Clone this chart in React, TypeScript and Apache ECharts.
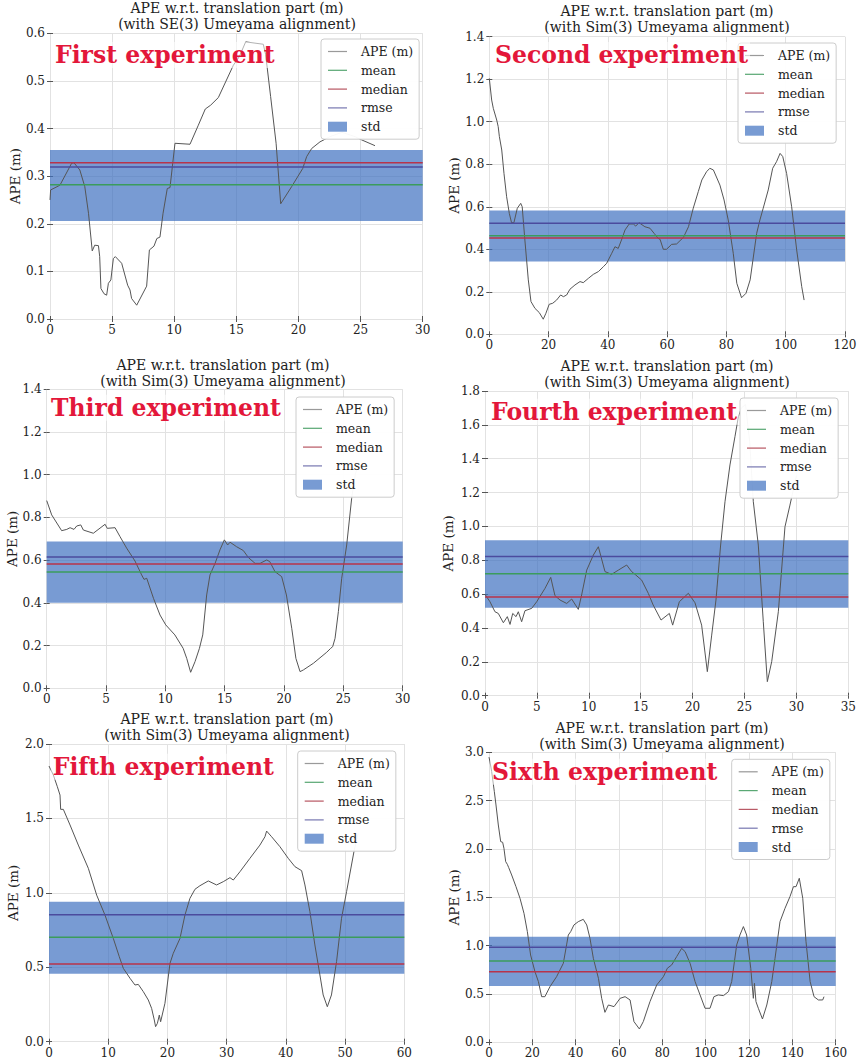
import React, { useEffect, useRef } from 'react';
import * as echarts from 'echarts';

const experimentLabels = ['First experiment', 'Second experiment', 'Third experiment', 'Fourth experiment', 'Fifth experiment', 'Sixth experiment'];
const alignmentNames = ['SE(3)', 'Sim(3)', 'Sim(3)', 'Sim(3)', 'Sim(3)', 'Sim(3)'];
const xMaxes = [30, 120, 30, 35, 60, 160];
const xSteps = [5, 20, 5, 5, 10, 20];
const yMaxes = [0.6, 1.4, 1.4, 1.8, 2.0, 3.0];
const ySteps = [0.1, 0.2, 0.2, 0.2, 0.5, 0.5];

const means = [0.282, 0.464, 0.545, 0.721, 0.701, 0.841];
const medians = [0.328, 0.453, 0.582, 0.583, 0.522, 0.731];
const rmses = [0.319, 0.522, 0.615, 0.823, 0.853, 0.983];
const stdLow = [0.206, 0.343, 0.401, 0.52, 0.457, 0.583];
const stdHigh = [0.355, 0.582, 0.687, 0.918, 0.941, 1.093];

const ape1 = [[0, 0.25], [0.05, 0.271], [0.8, 0.281], [1.74, 0.327], [1.93, 0.328], [2.4, 0.313], [2.8, 0.278], [3.1, 0.222], [3.4, 0.143], [3.6, 0.155], [3.9, 0.154], [4.0, 0.131], [4.1, 0.064], [4.35, 0.053], [4.56, 0.05], [4.7, 0.075], [4.9, 0.082], [5.1, 0.127], [5.26, 0.131], [5.77, 0.117], [6.25, 0.071], [6.44, 0.061], [6.57, 0.043], [6.98, 0.029], [7.78, 0.069], [8.0, 0.145], [8.37, 0.153], [8.6, 0.169], [8.85, 0.172], [9.1, 0.222], [9.44, 0.274], [9.66, 0.276], [10.06, 0.369], [11.27, 0.367], [11.94, 0.407], [12.5, 0.441], [12.93, 0.449], [13.55, 0.465], [14.76, 0.533], [15.24, 0.551], [15.75, 0.582], [17.17, 0.577], [17.36, 0.555], [17.76, 0.467], [18.2, 0.369], [18.57, 0.242], [19.45, 0.278], [20.34, 0.316], [20.66, 0.341], [21.06, 0.358], [21.73, 0.372], [22.54, 0.383], [23.5, 0.392], [24.55, 0.383], [25.1, 0.376], [26.16, 0.364]];

const ape2 = [[0, 1.204], [0.8, 1.102], [1.35, 1.063], [2.5, 1.008], [3.0, 0.977], [3.4, 0.93], [4.2, 0.867], [4.95, 0.757], [5.85, 0.647], [6.75, 0.569], [7.5, 0.525], [8.3, 0.525], [9.45, 0.593], [10.6, 0.616], [11.1, 0.6], [12.0, 0.444], [13.16, 0.256], [14.06, 0.154], [15.4, 0.122], [16.87, 0.102], [18.2, 0.071], [19.1, 0.099], [20.2, 0.141], [21.4, 0.146], [22.7, 0.161], [24.07, 0.185], [25.0, 0.177], [26.1, 0.185], [27.2, 0.212], [28.9, 0.232], [30.6, 0.248], [31.7, 0.243], [33.4, 0.263], [35.1, 0.282], [36.8, 0.295], [38.5, 0.318], [39.6, 0.334], [41.3, 0.381], [42.4, 0.412], [43.5, 0.404], [44.6, 0.444], [45.8, 0.491], [47.2, 0.519], [48.6, 0.519], [49.4, 0.509], [50.5, 0.525], [52.5, 0.506], [54.2, 0.499], [55.6, 0.475], [57.0, 0.451], [57.6, 0.447], [58.7, 0.4], [59.8, 0.4], [61.5, 0.423], [63.2, 0.425], [65.5, 0.456], [67.2, 0.506], [68.8, 0.593], [70.5, 0.671], [71.7, 0.726], [73.3, 0.765], [74.4, 0.781], [75.6, 0.773], [77.8, 0.702], [79.2, 0.632], [80.6, 0.538], [82.3, 0.381], [83.5, 0.24], [85.1, 0.172], [86.6, 0.193], [88.0, 0.256], [90.2, 0.475], [91.3, 0.538], [92.4, 0.593], [94.1, 0.679], [95.6, 0.781], [96.9, 0.812], [98.1, 0.851], [99.0, 0.836], [100.3, 0.757], [102.0, 0.6], [103.7, 0.397], [105.4, 0.224], [106.2, 0.161]];

const ape3 = [[0, 0.879], [0.42, 0.812], [1.26, 0.738], [1.69, 0.744], [1.97, 0.752], [2.3, 0.744], [2.53, 0.76], [2.87, 0.765], [3.09, 0.741], [3.93, 0.726], [4.92, 0.768], [5.1, 0.749], [5.76, 0.752], [6.18, 0.71], [6.74, 0.656], [7.44, 0.596], [8.0, 0.531], [8.2, 0.51], [8.43, 0.515], [9.0, 0.421], [9.55, 0.343], [10.03, 0.297], [10.8, 0.25], [11.5, 0.187], [11.8, 0.14], [12.13, 0.075], [12.5, 0.125], [12.87, 0.187], [13.15, 0.25], [13.48, 0.437], [13.76, 0.531], [14.19, 0.585], [14.6, 0.648], [14.97, 0.695], [15.25, 0.671], [15.45, 0.684], [16.0, 0.663], [16.57, 0.645], [17.0, 0.612], [17.56, 0.585], [17.98, 0.585], [18.54, 0.601], [18.8, 0.593], [19.24, 0.546], [19.8, 0.523], [20.2, 0.437], [20.65, 0.281], [21.0, 0.14], [21.35, 0.078], [21.63, 0.086], [22.47, 0.117], [23.6, 0.169], [23.93, 0.187], [24.1, 0.195], [24.3, 0.234], [24.58, 0.359], [24.86, 0.515], [25.28, 0.671], [25.7, 0.89], [26.0, 1.0], [26.3, 1.06]];

const ape4 = [[0, 0.599], [0.48, 0.555], [0.96, 0.496], [1.28, 0.486], [1.77, 0.431], [2.15, 0.467], [2.41, 0.421], [2.67, 0.486], [2.99, 0.467], [3.21, 0.496], [3.53, 0.437], [3.85, 0.502], [4.5, 0.516], [4.98, 0.555], [5.78, 0.634], [6.33, 0.699], [6.74, 0.591], [7.23, 0.565], [7.87, 0.545], [8.35, 0.571], [8.99, 0.51], [9.31, 0.595], [9.8, 0.742], [10.44, 0.831], [10.92, 0.88], [11.56, 0.733], [12.2, 0.717], [12.85, 0.742], [13.65, 0.772], [14.13, 0.733], [14.45, 0.717], [15.09, 0.683], [15.73, 0.605], [16.2, 0.536], [16.96, 0.447], [17.76, 0.486], [18.08, 0.417], [18.72, 0.555], [19.59, 0.605], [20.23, 0.549], [20.87, 0.417], [21.42, 0.142], [21.84, 0.358], [22.25, 0.565], [22.7, 0.89], [23.12, 1.146], [23.6, 1.363], [24.08, 1.53], [24.41, 1.648], [24.7, 1.7], [25.1, 1.72], [25.5, 1.5], [25.85, 1.146], [26.33, 0.89], [26.81, 0.437], [27.2, 0.083], [27.62, 0.201], [28.26, 0.496], [28.9, 0.998], [29.38, 1.126], [30.0, 1.3]];

const ape5 = [[0, 1.852], [0.73, 1.792], [1.41, 1.713], [1.86, 1.657], [1.97, 1.561], [2.42, 1.561], [3.55, 1.456], [4.95, 1.321], [6.64, 1.165], [8.05, 0.985], [9.45, 0.851], [10.86, 0.694], [11.87, 0.571], [12.55, 0.493], [13.68, 0.426], [14.52, 0.381], [15.08, 0.385], [15.93, 0.336], [16.77, 0.28], [17.33, 0.224], [17.78, 0.146], [18.0, 0.101], [18.3, 0.123], [18.63, 0.179], [18.85, 0.134], [19.58, 0.258], [20.43, 0.526], [20.99, 0.594], [22.12, 0.694], [22.96, 0.851], [23.8, 0.963], [24.65, 1.024], [25.49, 1.048], [26.9, 1.08], [28.3, 1.053], [29.43, 1.075], [30.56, 1.102], [31.12, 1.086], [32.25, 1.142], [33.93, 1.232], [35.62, 1.321], [36.47, 1.377], [36.75, 1.415], [37.59, 1.377], [39.0, 1.31], [40.4, 1.232], [41.53, 1.176], [42.66, 1.149], [43.22, 1.053], [44.06, 0.873], [44.9, 0.65], [45.75, 0.448], [46.3, 0.314], [47.0, 0.235], [47.7, 0.314], [48.56, 0.538], [49.4, 0.829], [50.25, 1.008], [51.5, 1.277], [52.2, 1.4]];

const ape6 = [[0, 2.95], [0.46, 2.9], [1.23, 2.8], [2.46, 2.593], [3.23, 2.455], [4.3, 2.248], [5.4, 2.076], [6.3, 2.069], [6.9, 2.007], [7.7, 1.869], [8.46, 1.841], [9.1, 1.807], [10.46, 1.731], [12.46, 1.61], [14.3, 1.49], [16.15, 1.334], [17.7, 1.145], [19.2, 0.903], [21.2, 0.731], [22.8, 0.628], [24.3, 0.472], [25.8, 0.472], [28.15, 0.576], [31.2, 0.679], [34.3, 0.817], [35.8, 1.007], [36.6, 1.11], [37.7, 1.145], [39.2, 1.214], [41.2, 1.248], [43.5, 1.272], [45.1, 1.214], [46.6, 1.076], [48.15, 0.869], [50.5, 0.662], [52.0, 0.455], [53.5, 0.31], [55.1, 0.386], [57.7, 0.369], [60.5, 0.455], [62.8, 0.472], [65.1, 0.438], [66.9, 0.214], [69.4, 0.138], [71.2, 0.214], [74.3, 0.421], [77.4, 0.593], [80.5, 0.679], [82.3, 0.766], [84.3, 0.8], [86.6, 0.886], [88.9, 0.972], [90.5, 0.938], [92.8, 0.817], [95.1, 0.628], [97.4, 0.49], [99.7, 0.352], [102.0, 0.352], [103.8, 0.472], [105.8, 0.49], [108.2, 0.483], [110.5, 0.524], [112.0, 0.628], [114.3, 1.007], [115.8, 1.11], [117.4, 1.197], [118.9, 1.11], [120.8, 0.766], [122.0, 0.455], [122.5, 0.61], [123.2, 0.421], [124.3, 0.352], [126.2, 0.241], [128.2, 0.386], [130.5, 0.628], [132.0, 0.869], [134.3, 1.248], [136.6, 1.386], [138.9, 1.507], [140.5, 1.61], [141.7, 1.61], [143.2, 1.697], [144.8, 1.49], [146.3, 1.041], [148.2, 0.628], [150.0, 0.472], [152.0, 0.438], [154.0, 0.438], [154.6, 0.472]];

const apeSeries = [ape1, ape2, ape3, ape4, ape5, ape6];
const legendNames = ['APE (m)', 'mean', 'median', 'rmse', 'std'];

// layout (pixels)
const gridBoxes = [
  { left: 50, top: 33.3, width: 372.7, height: 285.7 },
  { left: 489.3, top: 36.7, width: 355.7, height: 297.6 },
  { left: 46.7, top: 389.3, width: 356, height: 299 },
  { left: 485, top: 391, width: 363.3, height: 304.7 },
  { left: 49, top: 744, width: 355.3, height: 297.7 },
  { left: 489, top: 752.3, width: 346.7, height: 290 },
];
const titleAnchors = [[237, 0], [667, 3], [223, 357], [667, 358], [227, 710.5], [662, 719.5]];
const legendAnchors = [[321, 39], [738, 43], [296, 397], [740, 398], [297.7, 751], [731.7, 759.3]];
const labelAnchors = [[53, 42], [493, 42], [49, 394.7], [489, 398.7], [50.7, 753.7], [490, 758.7]];
const yNameGaps = [27, 28, 28, 30, 29, 28];

const FONT = '"DejaVu Serif", serif';
const C_APE = '#555555';
const C_MEAN = '#3b9c5c';
const C_MEDIAN = '#b8334a';
const C_RMSE = '#4b4b9e';
const C_STD = 'rgba(62,112,192,0.70)';
const legendIconColors = ['#9a9a9a', '#5aa874', '#b95a66', '#7a7ab2'];
const LINE_ICON = 'path://M0,0L20,0L20,1.3L0,1.3Z';

export default function App() {
  const ref = useRef<HTMLDivElement>(null);
  useEffect(() => {
    if (!ref.current) return;
    const chart = echarts.init(ref.current, undefined, { renderer: 'svg' });
    const grid: any[] = [];
    const xAxis: any[] = [];
    const yAxis: any[] = [];
    const series: any[] = [];
    const title: any[] = [];
    const legend: any[] = [];
    const graphic: any[] = [];
    const tickStyle = { show: true, length: 3, inside: false, lineStyle: { color: '#555', width: 1 } };

    for (let i = 0; i < 6; i++) {
      grid.push({ ...gridBoxes[i], containLabel: false });
      xAxis.push({
        type: 'value', gridIndex: i, min: 0, max: xMaxes[i], interval: xSteps[i],
        axisLine: { show: false }, axisTick: tickStyle,
        axisLabel: { fontFamily: FONT, fontSize: 12, color: '#222', margin: 5, formatter: (v: number) => String(Math.round(v)) },
        splitLine: { show: true, lineStyle: { color: '#e2e2e2', width: 1 } },
      });
      yAxis.push({
        type: 'value', gridIndex: i, min: 0, max: yMaxes[i], interval: ySteps[i],
        name: 'APE (m)', nameLocation: 'middle', nameGap: yNameGaps[i],
        nameTextStyle: { fontFamily: FONT, fontSize: 13.5, color: '#222' },
        axisLine: { show: false }, axisTick: tickStyle,
        axisLabel: { fontFamily: FONT, fontSize: 12, color: '#222', margin: 5, formatter: (v: number) => v.toFixed(1) },
        splitLine: { show: true, lineStyle: { color: '#e2e2e2', width: 1 } },
      });
    }
    // mirrored tick marks on top / right edges
    for (let i = 0; i < 6; i++) {
      xAxis.push({
        type: 'value', gridIndex: i, position: 'top', min: 0, max: xMaxes[i], interval: xSteps[i],
        axisLine: { show: false }, axisTick: tickStyle, axisLabel: { show: false }, splitLine: { show: false },
      });
      yAxis.push({
        type: 'value', gridIndex: i, position: 'right', min: 0, max: yMaxes[i], interval: ySteps[i],
        axisLine: { show: false }, axisTick: tickStyle, axisLabel: { show: false }, splitLine: { show: false },
      });
    }

    for (let i = 0; i < 6; i++) {
      const xm = xMaxes[i];
      const base = { type: 'line', xAxisIndex: i, yAxisIndex: i, symbol: 'none', silent: true };
      series.push({ ...base, name: 'APE (m)', data: apeSeries[i], color: C_APE, lineStyle: { color: C_APE, width: 1 } });
      series.push({
        ...base, name: 'std', data: [[0, stdHigh[i]], [xm, stdHigh[i]]], color: C_STD,
        lineStyle: { width: 0, opacity: 0 }, areaStyle: { origin: stdLow[i], color: C_STD, opacity: 1 },
      });
      series.push({ ...base, name: 'mean', data: [[0, means[i]], [xm, means[i]]], color: C_MEAN, lineStyle: { color: C_MEAN, width: 1.5 } });
      series.push({ ...base, name: 'median', data: [[0, medians[i]], [xm, medians[i]]], color: C_MEDIAN, lineStyle: { color: C_MEDIAN, width: 1.5 } });
      series.push({ ...base, name: 'rmse', data: [[0, rmses[i]], [xm, rmses[i]]], color: C_RMSE, lineStyle: { color: C_RMSE, width: 1.5 } });

      title.push({
        text: 'APE w.r.t. translation part (m)\n(with ' + alignmentNames[i] + ' Umeyama alignment)',
        left: titleAnchors[i][0], top: titleAnchors[i][1], textAlign: 'center', padding: 0,
        textStyle: { fontFamily: FONT, fontSize: 14, fontWeight: 'normal', color: '#222', lineHeight: 16 },
      });

      legend.push({
        orient: 'vertical', left: legendAnchors[i][0], top: legendAnchors[i][1],
        padding: [6, 6, 6, 7], itemGap: 5.8, itemWidth: 19, itemHeight: 10,
        backgroundColor: 'rgba(255,255,255,0.96)', borderColor: '#cccccc', borderWidth: 1, borderRadius: 3,
        selectedMode: false, symbolKeepAspect: true,
        textStyle: { fontFamily: FONT, fontSize: 12.5, color: '#222', padding: [0, 0, 0, 9] },
        data: legendNames.map((n, k) => n === 'std'
          ? { name: n, icon: 'rect', itemStyle: { color: C_STD } }
          : { name: n, icon: LINE_ICON, itemStyle: { color: legendIconColors[k], borderWidth: 0 } }),
        z: 10,
      });

      graphic.push({
        type: 'text', x: labelAnchors[i][0], y: labelAnchors[i][1], z: 100,
        style: {
          text: experimentLabels[i], fill: '#e3173a', font: 'bold 23.5px "DejaVu Serif", serif',
          textVerticalAlign: 'top', backgroundColor: 'rgba(255,255,255,0.55)', padding: [1, 2],
        },
      });
    }

    chart.setOption({
      animation: false,
      backgroundColor: '#ffffff',
      textStyle: { fontFamily: FONT },
      grid, xAxis, yAxis, series, title, legend, graphic,
    });
    return () => chart.dispose();
  }, []);
  return <div ref={ref} style={{ position: 'absolute', left: 0, top: 0, width: 860, height: 1063 }} />;
}
